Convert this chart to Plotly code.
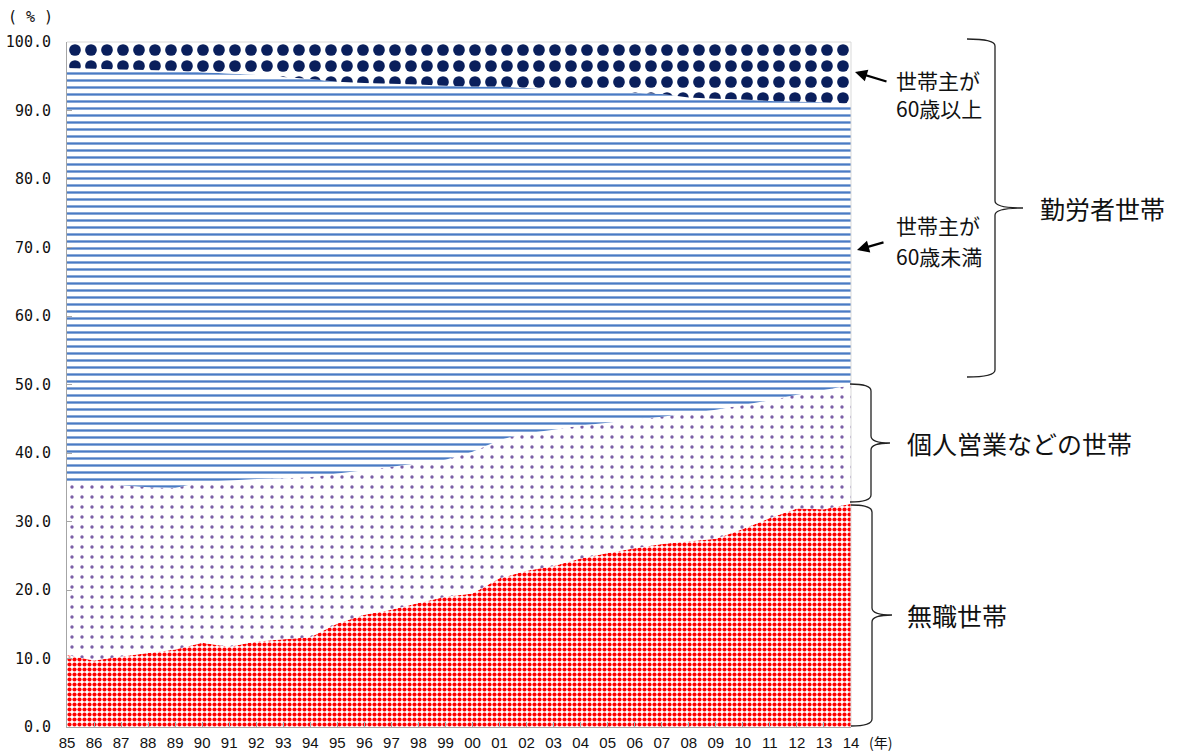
import plotly.graph_objects as go

# ---- data (percent shares) ----
years = ['85', '86', '87', '88', '89', '90', '91', '92', '93', '94', '95', '96', '97', '98', '99',
         '00', '01', '02', '03', '04', '05', '06', '07', '08', '09', '10', '11', '12', '13', '14']

mushoku = [10.5, 9.7, 10.3, 10.8, 11.3, 12.3, 11.7, 12.5, 12.8, 13.1, 15.1, 16.4, 17.1, 18.1, 19.0,
           19.5, 21.7, 22.8, 23.5, 24.6, 25.4, 26.1, 26.7, 27.1, 27.5, 28.9, 30.5, 31.9, 31.8, 32.6]
kojin = [25.0, 25.9, 25.0, 24.2, 23.6, 23.5, 24.3, 23.7, 23.5, 23.4, 21.9, 21.1, 20.9, 20.4, 20.0,
         20.7, 20.2, 20.1, 19.9, 19.4, 19.0, 18.8, 18.6, 18.7, 18.8, 18.1, 17.2, 16.6, 17.4, 17.3]
kinro_u60 = [60.7, 60.5, 60.7, 60.9, 60.9, 59.8, 59.4, 59.0, 58.6, 58.1, 57.2, 56.5, 55.9, 55.3, 54.6,
             53.3, 51.6, 50.4, 49.7, 49.0, 48.4, 47.7, 47.1, 46.1, 45.4, 44.6, 43.7, 42.8, 42.0, 41.1]
kinro_o60 = [3.8, 3.9, 4.0, 4.1, 4.2, 4.4, 4.6, 4.8, 5.1, 5.4, 5.8, 6.0, 6.1, 6.2, 6.4,
             6.5, 6.5, 6.7, 6.9, 7.0, 7.2, 7.4, 7.6, 8.1, 8.3, 8.4, 8.6, 8.7, 8.8, 9.0]

y_ticks = [0, 10, 20, 30, 40, 50, 60, 70, 80, 90, 100]
y_ticktext = ['%.1f' % v for v in y_ticks]

series = [
    ('無職世帯', mushoku, dict(shape='.', fgcolor='#ff0000', bgcolor='white', size=5, solidity=0.55)),
    ('個人営業などの世帯', kojin, dict(shape='.', fgcolor='#7b5ea7', bgcolor='white', size=10, solidity=0.09)),
    ('勤労者世帯(60歳未満)', kinro_u60, dict(shape='-', fgcolor='#4a7bc4', bgcolor='white', size=7, solidity=0.33)),
    ('勤労者世帯(60歳以上)', kinro_o60, dict(shape='.', fgcolor='#0a1f5c', bgcolor='white', size=16, solidity=0.42)),
]

fig = go.Figure()
for name, vals, pat in series:
    fig.add_trace(go.Scatter(
        x=years, y=vals, name=name, stackgroup='one', mode='none',
        fillcolor='white', fillpattern=dict(fillmode='replace', **pat),
        hoverinfo='skip'))

# ---- layout geometry (pixels) ----
W, H = 1178, 754
L, R, T, B = 67, 851, 42, 727


def px(x):
    return (x - L) / (R - L)


def py(y):
    return (B - y) / (B - T)


fig.update_layout(
    width=W, height=H,
    margin=dict(l=L, r=W - R, t=T, b=H - B, pad=0),
    paper_bgcolor='white', plot_bgcolor='white',
    showlegend=False,
    font=dict(family='Noto Sans CJK JP', color='#111'),
    xaxis=dict(type='category', range=[0, len(years) - 1], showgrid=False, zeroline=False,
               automargin=False,
               showline=True, linecolor='#a6a6a6', linewidth=1,
               ticks='inside', ticklen=5, tickcolor='#a6a6a6',
               tickfont=dict(family='Liberation Sans', size=15, color='#111'),
               ticklabelstandoff=2),
    yaxis=dict(range=[0, 100], tickvals=y_ticks, ticktext=y_ticktext, showgrid=False, zeroline=False,
               automargin=False,
               showline=True, linecolor='#a6a6a6', linewidth=1,
               ticks='inside', ticklen=5, tickcolor='#a6a6a6',
               tickfont=dict(family='DejaVu Sans Mono', size=15, color='#111'),
               ticklabelstandoff=12),
)

shapes = []
# light border top / right
shapes.append(dict(type='line', xref='paper', yref='paper', x0=0, x1=1, y0=1, y1=1,
                   line=dict(color='#d9d9d9', width=1), layer='above'))
shapes.append(dict(type='line', xref='paper', yref='paper', x0=1, x1=1, y0=0, y1=1,
                   line=dict(color='#d9d9d9', width=1), layer='above'))


def brace(x0, xv, xt, ytop, ymid, ybot, r=7):
    pts = [
        ('M', x0, ytop),
        ('Q', xv, ytop, xv, ytop + r),
        ('L', xv, ymid - r),
        ('Q', xv, ymid, xt, ymid),
        ('Q', xv, ymid, xv, ymid + r),
        ('L', xv, ybot - r),
        ('Q', xv, ybot, x0, ybot),
    ]
    s = ''
    for p in pts:
        cmd = p[0]
        coords = p[1:]
        parts = []
        for i in range(0, len(coords), 2):
            parts.append('%.5f,%.5f' % (px(coords[i]), py(coords[i + 1])))
        s += cmd + ' ' + ' '.join(parts) + ' '
    return dict(type='path', xref='paper', yref='paper', path=s.strip(),
                line=dict(color='#222', width=1.3), layer='above')


shapes.append(brace(967, 995, 1023, 39, 208, 377))
shapes.append(brace(850, 871, 890, 384, 443, 502))
shapes.append(brace(851, 872, 892, 505, 615, 726))
fig.update_layout(shapes=shapes)

ann = []


def text(x, y, s, size, anchor='left', family='Noto Sans CJK JP'):
    ann.append(dict(xref='paper', yref='paper', x=px(x), y=py(y), text=s, showarrow=False,
                    xanchor=anchor, yanchor='middle',
                    font=dict(family=family, size=size, color='#111')))


text(894, 80, '世帯主が', 21)
text(894, 108, '60歳以上', 21)
text(894, 225, '世帯主が', 21)
text(894, 256, '60歳未満', 21)
text(1038, 208, '勤労者世帯', 25)
text(905, 443, '個人営業などの世帯', 25)
text(905, 615, '無職世帯', 25)
text(30, 17, '( % )', 15, anchor='center', family='DejaVu Sans Mono')
text(880, 742, '(年)', 14, anchor='center')

# arrows
for tip, tail in [((855, 72), (888, 82)), ((857, 250), (885, 242))]:
    ann.append(dict(xref='paper', yref='paper', x=px(tip[0]), y=py(tip[1]), text='',
                    showarrow=True, arrowhead=2, arrowsize=1.1, arrowwidth=2.2, arrowcolor='#000',
                    ax=tail[0] - tip[0], ay=tail[1] - tip[1], axref='pixel', ayref='pixel'))

fig.update_layout(annotations=ann)

fig.write_html('out.html')
